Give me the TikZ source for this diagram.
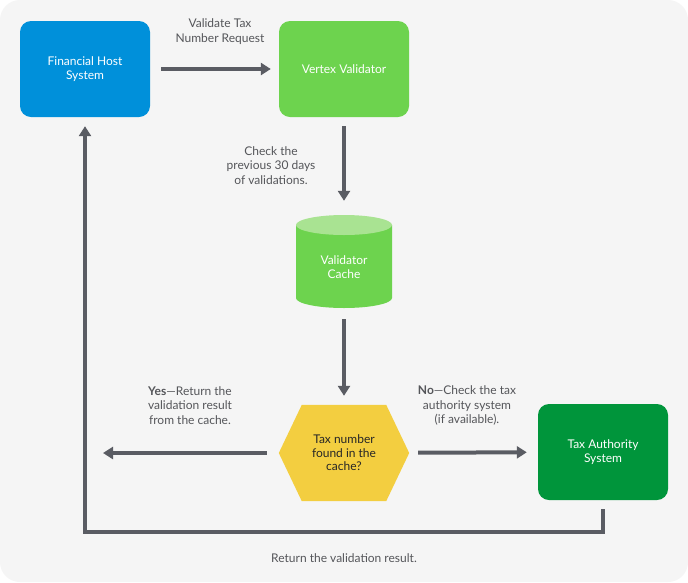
\documentclass[tikz,border=0pt]{standalone}
\usepackage{fontspec}
\setmainfont{Lato}
\usetikzlibrary{arrows.meta}
\definecolor{bgc}{HTML}{F5F5F5}
\definecolor{hostblue}{HTML}{0090DA}
\definecolor{vgreen}{HTML}{6DD34E}
\definecolor{vlight}{HTML}{A9E392}
\definecolor{dgreen}{HTML}{00953B}
\definecolor{hexy}{HTML}{F3CE40}
\definecolor{arrowc}{HTML}{5A5C63}
\definecolor{txtc}{HTML}{55565A}
\tikzset{
  box/.style={rectangle, rounded corners=11pt, minimum width=130pt, minimum height=96pt, inner sep=0pt,
    text=white, align=center, font=\fontsize{12pt}{14pt}\selectfont},
  lbl/.style={text=txtc, align=center, inner sep=0pt, font=\fontsize{12pt}{14.5pt}\selectfont},
  conn/.style={draw=arrowc, line width=4pt, -{Triangle[length=10pt,width=12pt]}},
}
\begin{document}
\begin{tikzpicture}[x=1pt,y=-1pt]
\useasboundingbox (0,0) rectangle (688,582);
\fill[white] (0,0) rectangle (688,582);
\fill[bgc, rounded corners=20pt] (0,0) rectangle (688,582);

\node[box, fill=hostblue] (host) at (85,69) {Financial Host\\System};
\node[box, fill=vgreen] (vv) at (344,69) {Vertex Validator};
\node[box, fill=dgreen] (tax) at (603,452) {Tax Authority\\System};

% cylinder
\node[minimum width=96pt, minimum height=93pt, inner sep=0pt] (cache) at (344,261.5) {};
\fill[vgreen] (296,225) -- (296,298) arc[start angle=180, end angle=360, x radius=48, y radius=-10] -- (392,225) -- cycle;
\fill[vlight] (344,225) ellipse[x radius=48, y radius=10];
\node[text=white, align=center, font=\fontsize{12pt}{14pt}\selectfont] at (344,267) {Validator\\Cache};

% hexagon
\node[minimum width=130pt, minimum height=96pt, inner sep=0pt] (hex) at (344,453) {};
\fill[hexy] (hex.west) -- ([xshift=23pt]hex.north west) -- ([xshift=-23pt]hex.north east) -- (hex.east)
  -- ([xshift=-23pt]hex.south east) -- ([xshift=23pt]hex.south west) -- cycle;
\node[text=black!85, align=center, font=\fontsize{12pt}{13.5pt}\selectfont] at (hex.center) {Tax number\\found in the\\cache?};

\coordinate (yesend) at (103,453);
\coordinate (c1) at (603,531.5);
\coordinate (c2) at (85,531.5);

\draw[conn, shorten <=11pt, shorten >=8pt] (host) -- (vv);
\draw[conn, shorten <=9pt, shorten >=14pt] (vv) -- (cache);
\draw[conn, shorten <=11pt, shorten >=9pt] (cache) -- (hex);
\draw[conn, shorten <=12pt] (hex) -- (yesend);
\draw[conn, shorten <=9pt, shorten >=11pt] (hex) -- (tax);
\draw[conn, line join=miter, shorten <=9pt, shorten >=9pt] (tax.south) -- (c1) -- (c2) -- (host.south);

\node[lbl] (l1) at (220,31.5) {Validate Tax\\Number Request};
\node[lbl] (l2) at (271,165.5) {Check the\\previous 30 days\\of validations.};
\node[lbl] (l3) at (190,405.5) {\textbf{Yes}—Return the\\validation result\\from the cache.};
\node[lbl] (l4) at (467,405.5) {\textbf{No}—Check the tax\\authority system\\(if available).};
\node[lbl] (l5) at (344,558) {Return the validation result.};
\end{tikzpicture}
\end{document}
